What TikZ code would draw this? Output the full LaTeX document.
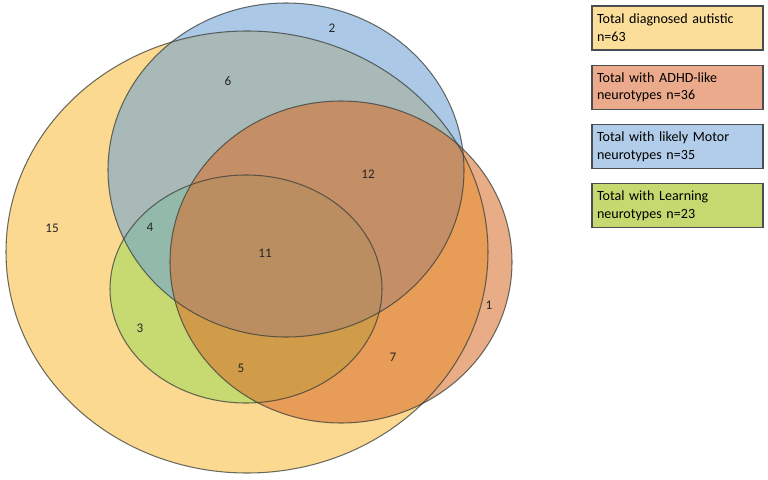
\documentclass[tikz,border=0pt]{standalone}
\usepackage{fontspec}
\setmainfont{Carlito}
\usepackage{tikz}
\usetikzlibrary{positioning}
\definecolor{autYellow}{HTML}{FCD990}
\definecolor{motorBlue}{HTML}{6EA2D4}
\definecolor{adhdOrange}{HTML}{D8702E}
\definecolor{learnGreen}{HTML}{78DC46}
\definecolor{vennLine}{HTML}{3A3F3A}
\definecolor{legLine}{HTML}{4A4E52}
\definecolor{legYellow}{HTML}{FBDE9A}
\definecolor{legOrange}{HTML}{EBAA8B}
\definecolor{legBlue}{HTML}{B2CDE9}
\definecolor{legGreen}{HTML}{C5D970}
\tikzset{
  setline/.style={draw=vennLine, line width=0.6pt, draw opacity=0.75},
  num/.style={font=\fontsize{7.5}{8}\selectfont, inner sep=0pt, text=black!85},
  legend/.style={
    rectangle,
    draw=legLine,
    line width=0.7pt,
    align=left,
    font=\fontsize{8}{10.2}\selectfont,
    text width=3.22cm,
    minimum height=0.88cm,
    inner xsep=0.1cm
  }
}

\begin{document}
\begin{tikzpicture}[x=0.02cm, y=-0.02cm, node distance=0.28cm]
  \useasboundingbox (0,0) rectangle (768,480);

  % set fills, bottom to top
  \fill[autYellow] (247,252) ellipse [x radius=241, y radius=221];
  \fill[learnGreen, fill opacity=0.4] (246,289) ellipse [x radius=136, y radius=114];
  \fill[motorBlue, fill opacity=0.58] (286,170) ellipse [x radius=178, y radius=167];
  \fill[adhdOrange, fill opacity=0.58] (341,262) ellipse [x radius=171, y radius=161];

  % outlines
  \draw[setline] (247,252) ellipse [x radius=241, y radius=221];
  \draw[setline] (246,289) ellipse [x radius=136, y radius=114];
  \draw[setline] (286,170) ellipse [x radius=178, y radius=167];
  \draw[setline] (341,262) ellipse [x radius=171, y radius=161];

  % counts
  \node[num] (n2) at (332,28) {2};
  \node[num] (n6) at (228,81) {6};
  \node[num] (n12) at (368,174) {12};
  \node[num] (n15) at (52,228) {15};
  \node[num] (n4) at (150,227) {4};
  \node[num] (n11) at (265,253) {11};
  \node[num] (n1) at (489,305) {1};
  \node[num] (n3) at (140,328) {3};
  \node[num] (n7) at (393,357) {7};
  \node[num] (n5) at (241,368) {5};

  % legend
  \node[legend, fill=legYellow] (autistic) at (677.5,28) {Total diagnosed autistic\\n=63};
  \node[legend, fill=legOrange, below=of autistic] (adhd) {Total with ADHD-like\\neurotypes n=36};
  \node[legend, fill=legBlue, below=of adhd] (motor) {Total with likely Motor\\neurotypes n=35};
  \node[legend, fill=legGreen, below=of motor] (learning) {Total with Learning\\neurotypes n=23};
\end{tikzpicture}
\end{document}
